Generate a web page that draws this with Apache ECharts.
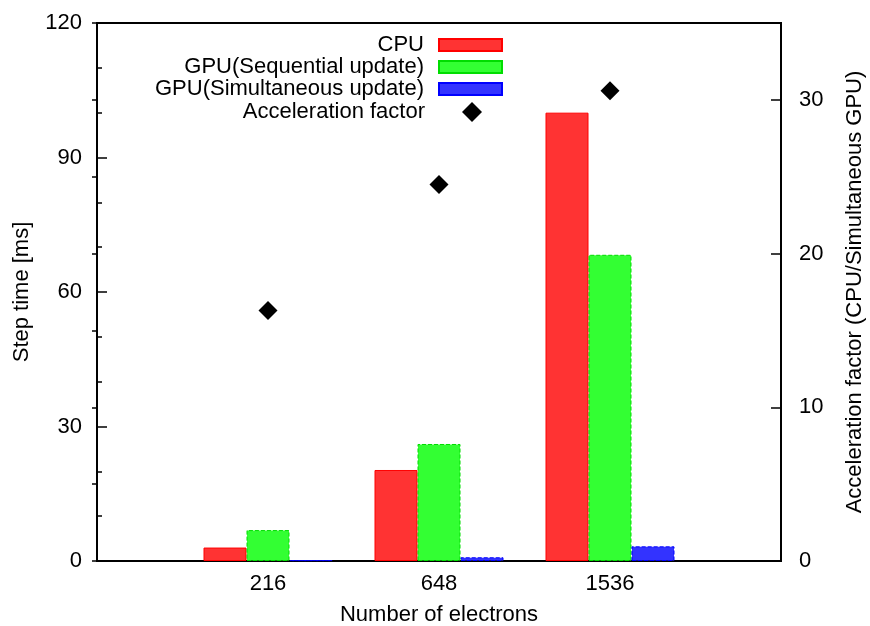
<!DOCTYPE html>
<html>
<head>
<meta charset="utf-8">
<script src="https://cdn.jsdelivr.net/npm/echarts@6/dist/echarts.min.js"></script>
<style>html,body{margin:0;padding:0;background:#fff;}#c{width:870px;height:626px;}</style>
</head>
<body>
<div id="c"></div>
<script>
var categories = ['216', '648', '1536'];
var cpu = [3.0, 20.3, 100.0];
var gpuSequential = [6.9, 26.1, 68.3];
var gpuSimultaneous = [0.18, 0.83, 3.27];
var accelFactor = [16.3, 24.5, 30.6];
var seriesNames = ['CPU', 'GPU(Sequential update)', 'GPU(Simultaneous update)', 'Acceleration factor'];

function pad(arr) { return [null].concat(arr, [null]); }
var xCats = [''].concat(categories, ['']);
var FONT = '"Liberation Sans", Arial, Helvetica, sans-serif';
var FS = 22;

var chart = echarts.init(document.getElementById('c'), null, {renderer: 'canvas'});
function legendText(padRight) {
  return {fontFamily: FONT, fontSize: FS, color: '#000', width: 290, align: 'right', padding: [0, padRight, 0, 0], lineHeight: 22};
}
chart.setOption({
  animation: false,
  backgroundColor: '#fff',
  textStyle: {fontFamily: FONT},
  grid: [
    {left: 97, right: 89, top: 23, bottom: 65, show: true, borderColor: '#000', borderWidth: 2, backgroundColor: 'transparent', outerBoundsMode: 'none', containLabel: false},
    {left: 97, right: 89, top: 23, bottom: 65, show: false, outerBoundsMode: 'none', containLabel: false}
  ],
  legend: [
    {
      data: seriesNames.slice(0, 3), orient: 'vertical', align: 'right', right: 367, top: 34, padding: 0,
      itemWidth: 63, itemHeight: 12, itemGap: 0, icon: 'rect',
      textStyle: legendText(10), selectedMode: false
    },
    {
      data: [seriesNames[3]], orient: 'vertical', align: 'right', right: 388, top: 101, padding: 0,
      itemWidth: 20, itemHeight: 20, itemGap: 0, icon: 'diamond',
      textStyle: legendText(32), selectedMode: false
    }
  ],
  xAxis: [
    {
      type: 'category', gridIndex: 0, data: xCats, boundaryGap: false,
      axisLine: {show: true, lineStyle: {color: '#000', width: 2}},
      axisTick: {show: false},
      axisLabel: {color: '#000', fontSize: FS, margin: 12, interval: 0, fontFamily: FONT},
      splitLine: {show: false},
      name: 'Number of electrons', nameLocation: 'middle', nameGap: 43,
      nameTextStyle: {color: '#000', fontSize: FS, fontFamily: FONT}
    },
    {type: 'value', gridIndex: 1, show: false}
  ],
  yAxis: [
    {
      type: 'value', gridIndex: 0, position: 'left', min: 0, max: 120, interval: 30,
      axisLine: {show: true, lineStyle: {color: '#000', width: 2}},
      axisTick: {show: true, inside: true, length: 10, lineStyle: {color: '#000', width: 1.5}},
      minorTick: {show: true, splitNumber: 3, length: 5, lineStyle: {color: '#000', width: 1.5}},
      splitLine: {show: false}, minorSplitLine: {show: false},
      axisLabel: {color: '#000', fontSize: FS, margin: 15, fontFamily: FONT},
      name: 'Step time [ms]', nameLocation: 'middle', nameRotate: 90, nameGap: 64,
      nameTextStyle: {color: '#000', fontSize: FS, fontFamily: FONT}
    },
    {
      type: 'value', gridIndex: 0, position: 'right', min: 0, max: 35, interval: 10,
      axisLine: {show: true, lineStyle: {color: '#000', width: 2}},
      axisTick: {show: true, inside: true, length: 10, lineStyle: {color: '#000', width: 1.5}},
      splitLine: {show: false},
      axisLabel: {color: '#000', fontSize: FS, margin: 18, showMaxLabel: false, fontFamily: FONT},
      name: 'Acceleration factor (CPU/Simultaneous GPU)', nameLocation: 'middle', nameRotate: 90, nameGap: 63,
      nameTextStyle: {color: '#000', fontSize: FS, fontFamily: FONT}
    },
    {
      type: 'value', gridIndex: 1, position: 'right', min: 0, max: 35, interval: 5,
      axisLine: {show: false},
      axisTick: {show: true, inside: true, length: 5, lineStyle: {color: '#000', width: 1.5}},
      axisLabel: {show: false}, splitLine: {show: false}
    }
  ],
  series: [
    {
      name: seriesNames[0], type: 'bar', xAxisIndex: 0, yAxisIndex: 0, data: pad(cpu),
      barWidth: 43, barGap: '0%',
      itemStyle: {color: '#ff3333', borderColor: '#ff0000', borderWidth: 1}
    },
    {
      name: seriesNames[1], type: 'bar', xAxisIndex: 0, yAxisIndex: 0, data: pad(gpuSequential),
      barWidth: 43, barGap: '0%',
      itemStyle: {color: '#33ff33', borderColor: '#00dd00', borderWidth: 1, borderType: 'dashed'}
    },
    {
      name: seriesNames[2], type: 'bar', xAxisIndex: 0, yAxisIndex: 0, data: pad(gpuSimultaneous),
      barWidth: 43, barGap: '0%',
      itemStyle: {color: '#3333ff', borderColor: '#0000ff', borderWidth: 1, borderType: 'dashed'}
    },
    {
      name: seriesNames[3], type: 'scatter', xAxisIndex: 0, yAxisIndex: 1, data: pad(accelFactor),
      symbol: 'diamond', symbolSize: 19,
      itemStyle: {color: '#000', opacity: 1}
    }
  ]
});
</script>
</body>
</html>
